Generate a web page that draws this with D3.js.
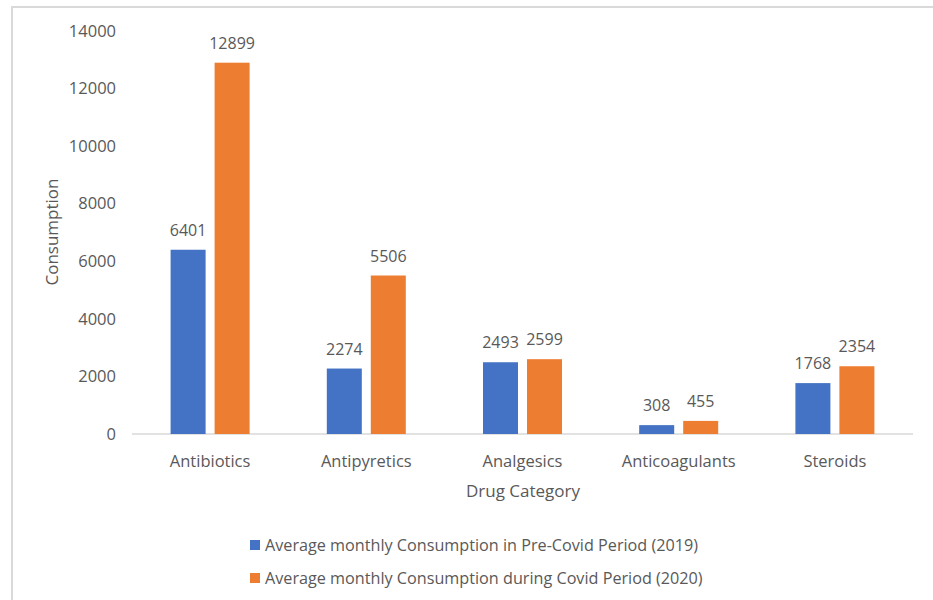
<!DOCTYPE html>
<html><head><meta charset="utf-8">
<script src="https://cdn.jsdelivr.net/npm/d3@7"></script>
<style>body{margin:0;background:#fff}svg{display:block}text{font-family:"Open Sans",sans-serif;fill:#595959}</style>
</head><body>
<svg id="c" width="933" height="600"></svg>
<script>
const categories = ["Antibiotics","Antipyretics","Analgesics","Anticoagulants","Steroids"];
const preCovid = [6401, 2274, 2493, 308, 1768];
const covid = [12899, 5506, 2599, 455, 2354];
const seriesNames = ["Average monthly Consumption in Pre-Covid Period (2019)","Average monthly Consumption during Covid Period (2020)"];
const seriesColors = ["#4472C4","#ED7D31"];
const yTicks = [0,2000,4000,6000,8000,10000,12000,14000];

(function(){
const svg = d3.select("#c");
svg.append("rect").attr("x",12).attr("y",7).attr("width",930).attr("height",600).attr("fill","none").attr("stroke","#d9d9d9").attr("stroke-width",2);

const pl=132, pr=913, pt=31, pb=434;
const x = d3.scaleBand().domain(categories).range([pl,pr]);
const y = d3.scaleLinear().domain([0,14000]).range([pb,pt]);
const series = [preCovid, covid];
const bw = 35, gap = 9;

yTicks.forEach(t=>{
  svg.append("text").attr("x",116).attr("y",y(t)).attr("dy","0.35em").attr("text-anchor","end").attr("font-size",16.5).text(t);
});
svg.append("line").attr("x1",pl).attr("x2",pr).attr("y1",pb).attr("y2",pb).attr("stroke","#d9d9d9").attr("stroke-width",1.5);

series.forEach((vals,si)=>{
  vals.forEach((v,i)=>{
    const cx = x(categories[i]) + x.bandwidth()/2;
    const bx = si===0 ? cx - gap/2 - bw : cx + gap/2;
    svg.append("rect").attr("x",bx).attr("y",y(v)).attr("width",bw).attr("height",pb-y(v)).attr("fill",seriesColors[si]);
    svg.append("text").attr("x",bx+bw/2).attr("y",y(v)-14).attr("text-anchor","middle").attr("font-size",16).text(v);
  });
});
categories.forEach(c=>{
  svg.append("text").attr("x",x(c)+x.bandwidth()/2).attr("y",461).attr("dy","0.35em").attr("text-anchor","middle").attr("font-size",16.5).text(c);
});
svg.append("text").attr("x",523).attr("y",491).attr("dy","0.35em").attr("text-anchor","middle").attr("font-size",17).text("Drug Category");
svg.append("text").attr("transform","translate(52,232) rotate(-90)").attr("dy","0.35em").attr("text-anchor","middle").attr("font-size",17).text("Consumption");

seriesNames.forEach((n,i)=>{
  const ly = 545 + i*33;
  svg.append("rect").attr("x",250).attr("y",ly-5).attr("width",10).attr("height",10).attr("fill",seriesColors[i]);
  svg.append("text").attr("x",265).attr("y",ly).attr("dy","0.35em").attr("font-size",16.2).text(n);
});
})();
</script>
</body></html>
